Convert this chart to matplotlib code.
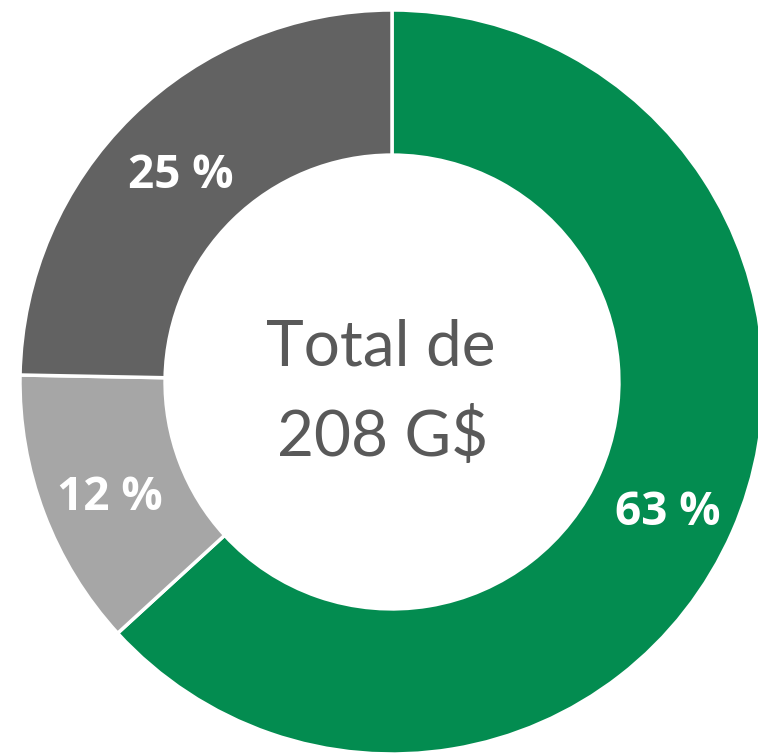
import matplotlib
matplotlib.use('Agg')
import matplotlib.pyplot as plt

# ── data ─────────────────────────────────────────────────────────────────────
categories = ['Vert', 'Gris clair', 'Gris foncé']
shares = [63.2, 12.1, 24.7]
colors = ['#038C50', '#A6A6A6', '#626262']
center_lines = ['Total de', '208 G$']

# ── figure (axes in pixel units so the ring can run past the edges) ─────────
W, H = 758, 756
fig = plt.figure(figsize=(W / 100, H / 100), dpi=100)
ax = fig.add_axes([0, 0, 1, 1])

cx, cy = 392, H - 382
R = 372

wedges, texts, autotexts = ax.pie(
    shares, colors=colors, startangle=90, counterclock=False,
    center=(cx, cy), radius=R, frame=True,
    autopct='%.0f %%', pctdistance=0.81,
    wedgeprops=dict(width=0.39 * R, edgecolor='white', linewidth=2.5),
    textprops=dict(color='white', fontsize=33, fontweight='bold', family='Open Sans'))

# nudge percentage labels down a touch
for t in autotexts:
    x, y = t.get_position()
    t.set_position((x, y - 9))

ax.set_xlim(0, W)
ax.set_ylim(0, H)
ax.set_aspect('equal')
ax.axis('off')

ax.text(cx - 11, H - 347, center_lines[0], ha='center', va='center',
        fontsize=46, color='#595959', family='Lato')
ax.text(cx - 9, H - 437, center_lines[1], ha='center', va='center',
        fontsize=46, color='#595959', family='Lato')

fig.savefig('out.png', dpi=100)
